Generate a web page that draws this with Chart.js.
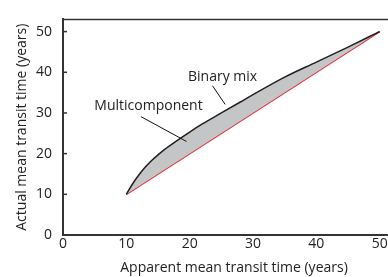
<!DOCTYPE html>
<html>
<head>
<meta charset="utf-8">
<script src="https://cdn.jsdelivr.net/npm/chart.js@4.4.0/dist/chart.umd.min.js"></script>
<style>
  html, body { margin: 0; padding: 0; overflow: hidden; background: #fff; }
  .wrap { width: 410px; height: 277px; }
</style>
</head>
<body>
<div class="wrap"><canvas id="chart"></canvas></div>
<script>
// binary mix curve (apparent vs actual mean transit time)
const curveX = [10, 11, 12, 13, 14, 15, 16, 18, 20, 22, 25, 28, 30, 35, 40, 45, 50];
const curveY = [10, 12.6, 14.8, 16.7, 18.3, 19.7, 21.0, 23.2, 25.3, 27.3, 30.0, 32.7, 34.5, 38.8, 42.5, 46.2, 50];
// 1:1 line
const lineX = [10, 50];
const lineY = [10, 50];
const xTicks = [0, 10, 20, 30, 40, 50];
const yTicks = [0, 10, 20, 30, 40, 50];

const labels = [
  { text: 'Binary mix', at: [25.2, 38.8], from: [23.6, 36.7], to: [25.6, 32.1] },
  { text: 'Multicomponent', at: [13.5, 31.6], from: [12.3, 29.1], to: [19.5, 23.0] }
];

const FONT = '"Open Sans", "Noto Sans", sans-serif';
const INK = '#222';

const extras = {
  id: 'extras',
  afterDraw(chart) {
    const { ctx, chartArea } = chart;
    const xs = chart.scales.x, ys = chart.scales.y;
    ctx.save();
    // top border
    ctx.strokeStyle = '#333';
    ctx.lineWidth = 1.5;
    ctx.beginPath();
    ctx.moveTo(chartArea.left, chartArea.top);
    ctx.lineTo(chart.width, chartArea.top);
    ctx.stroke();
    // inward ticks on y axis
    yTicks.forEach(v => {
      const py = ys.getPixelForValue(v);
      ctx.beginPath();
      ctx.moveTo(chartArea.left, py);
      ctx.lineTo(chartArea.left + 4, py);
      ctx.stroke();
    });
    // annotations
    ctx.font = '14px ' + FONT;
    ctx.fillStyle = INK;
    ctx.textAlign = 'center';
    ctx.textBaseline = 'middle';
    ctx.strokeStyle = '#111';
    ctx.lineWidth = 1;
    labels.forEach(l => {
      ctx.fillText(l.text, xs.getPixelForValue(l.at[0]), ys.getPixelForValue(l.at[1]));
      ctx.beginPath();
      ctx.moveTo(xs.getPixelForValue(l.from[0]), ys.getPixelForValue(l.from[1]));
      ctx.lineTo(xs.getPixelForValue(l.to[0]), ys.getPixelForValue(l.to[1]));
      ctx.stroke();
    });
    ctx.restore();
  }
};

new Chart(document.getElementById('chart'), {
  type: 'line',
  data: {
    datasets: [
      {
        label: 'Binary mix',
        data: curveX.map((x, i) => ({ x, y: curveY[i] })),
        borderColor: '#231f20',
        borderWidth: 1.5,
        backgroundColor: '#c4c5c7',
        fill: 1,
        pointRadius: 0,
        cubicInterpolationMode: 'monotone'
      },
      {
        label: '1:1',
        data: lineX.map((x, i) => ({ x, y: lineY[i] })),
        borderColor: '#e3262b',
        borderWidth: 1.8,
        fill: false,
        pointRadius: 0
      }
    ]
  },
  options: {
    responsive: true,
    maintainAspectRatio: false,
    animation: false,
    layout: { padding: { top: 5, right: 5, left: 0, bottom: 0 } },
    plugins: { legend: { display: false }, tooltip: { enabled: false } },
    scales: {
      x: {
        type: 'linear',
        min: 0,
        max: 54,
        afterBuildTicks: s => { s.ticks = xTicks.map(v => ({ value: v })); },
        afterFit: s => { s.height = 42; },
        grid: { display: false, drawTicks: false },
        border: { display: true, color: '#333', width: 2 },
        ticks: { color: INK, font: { family: FONT, size: 14 }, padding: 1 },
        title: {
          display: true,
          text: 'Apparent mean transit time (years)',
          color: INK,
          font: { family: FONT, size: 14 },
          padding: { top: 0, bottom: 1 }
        }
      },
      y: {
        min: 0,
        max: 53,
        afterBuildTicks: s => { s.ticks = yTicks.map(v => ({ value: v })); },
        afterFit: s => { s.width = 63; },
        grid: { display: false, drawTicks: false },
        border: { display: true, color: '#333', width: 2 },
        ticks: { color: INK, font: { family: FONT, size: 14 }, padding: 11 },
        title: {
          display: true,
          text: 'Actual mean transit time (years)',
          color: INK,
          font: { family: FONT, size: 14 },
          padding: { top: 14, bottom: 0 }
        }
      }
    }
  },
  plugins: [extras]
});
</script>
</body>
</html>
